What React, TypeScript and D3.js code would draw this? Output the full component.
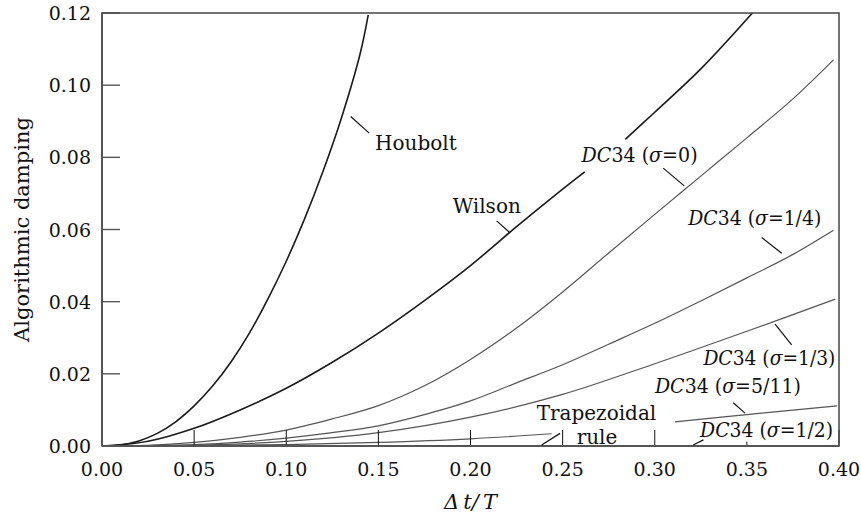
import React from "react";
import * as d3 from "d3";

// ---- data ----
const xTicks = [0, 0.05, 0.1, 0.15, 0.2, 0.25, 0.3, 0.35, 0.4];
const yTicks = [0, 0.02, 0.04, 0.06, 0.08, 0.1, 0.12];

const houboltX = [0, 0.01, 0.02, 0.03, 0.04, 0.05, 0.06, 0.07, 0.08, 0.09, 0.1, 0.11, 0.12, 0.13, 0.14, 0.1445];
const houboltY = [0, 0.0003, 0.0014, 0.0035, 0.0067, 0.0111, 0.0166, 0.0233, 0.0313, 0.0407, 0.0512, 0.063, 0.0762, 0.091, 0.1085, 0.1195];

const wilsonX = [0, 0.025, 0.05, 0.075, 0.1, 0.125, 0.15, 0.175, 0.2, 0.225, 0.25, 0.262, 0.273, 0.284, 0.3, 0.325, 0.353];
const wilsonY = [0, 0.0013, 0.0049, 0.01, 0.016, 0.0232, 0.0313, 0.0403, 0.05, 0.0608, 0.0712, 0.076, null, 0.085, 0.0925, 0.1045, 0.12];

const dc0X = [0, 0.025, 0.05, 0.075, 0.1, 0.125, 0.15, 0.175, 0.2, 0.225, 0.25, 0.275, 0.3, 0.325, 0.35, 0.375, 0.397];
const dc0Y = [0, 0.0002, 0.001, 0.0024, 0.0044, 0.0075, 0.0112, 0.0167, 0.024, 0.0327, 0.0427, 0.0535, 0.0642, 0.0748, 0.0854, 0.0962, 0.107];

const dcQuarterX = [0, 0.025, 0.05, 0.075, 0.1, 0.125, 0.15, 0.175, 0.2, 0.225, 0.25, 0.275, 0.3, 0.325, 0.35, 0.375, 0.397];
const dcQuarterY = [0, 0.0001, 0.0004, 0.0011, 0.0022, 0.0037, 0.0056, 0.0087, 0.0125, 0.0175, 0.0225, 0.0282, 0.034, 0.0402, 0.0466, 0.0531, 0.0598];

const dcThirdX = [0, 0.05, 0.1, 0.15, 0.2, 0.25, 0.3, 0.35, 0.398];
const dcThirdY = [0, 0.0002, 0.0013, 0.0037, 0.008, 0.0143, 0.0228, 0.0318, 0.0407];

const dcFiveElevenX = [0, 0.05, 0.1, 0.15, 0.2, 0.244, 0.28, 0.311, 0.35, 0.399];
const dcFiveElevenY = [0, 0.0001, 0.0004, 0.001, 0.002, 0.0034, null, 0.0067, 0.0087, 0.0111];

const trapezoidalX = [0, 0.4];
const trapezoidalY = [0, 0];
const dcHalfX = [0, 0.4];
const dcHalfY = [0, 0];

type Series = { xs: number[]; ys: (number | null)[]; dark: boolean };
const seriesList: Series[] = [
  { xs: houboltX, ys: houboltY, dark: true },
  { xs: wilsonX, ys: wilsonY, dark: true },
  { xs: dc0X, ys: dc0Y, dark: false },
  { xs: dcQuarterX, ys: dcQuarterY, dark: false },
  { xs: dcThirdX, ys: dcThirdY, dark: false },
  { xs: dcFiveElevenX, ys: dcFiveElevenY, dark: false },
  { xs: trapezoidalX, ys: trapezoidalY, dark: false },
  { xs: dcHalfX, ys: dcHalfY, dark: false },
];

// label text: plain names or DC34 with sigma value
const labelNames = ["Houbolt", "Wilson", "DC34", "DC34", "DC34", "DC34", "DC34", "Trapezoidal"];
const labelSigma = ["", "", "0", "1/4", "1/3", "5/11", "1/2", ""];
const labelX = [0.1482, 0.1903, 0.2603, 0.3182, 0.3264, 0.3001, 0.3246, 0.2359];
const labelY = [0.082, 0.0645, 0.0788, 0.0612, 0.0224, 0.0146, 0.0026, 0.0073];
const labelWidth = [0, 0, 116, 133, 132, 146, 133, 0];
const leaderX1 = [0.135, 0.2142, 0.3046, 0.358, 0.3653, 0.3426, 0.3209, 0.2386];
const leaderY1 = [0.0913, 0.0624, 0.077, 0.0578, 0.0338, 0.012, 0.0003, 0.0003];
const leaderX2 = [0.145, 0.2214, 0.316, 0.3689, 0.3743, 0.349, 0.3264, 0.2486];
const leaderY2 = [0.0867, 0.0591, 0.0721, 0.0534, 0.028, 0.0091, 0.0017, 0.0035];
const ruleX = 0.2576;
const ruleY = 0.0005;

const W = 861;
const H = 516;
const FONT = "'DejaVu Serif', serif";

export default function App() {
  const x = d3.scaleLinear().domain([0, 0.4]).range([102, 839]);
  const y = d3.scaleLinear().domain([0, 0.12]).range([446, 13]);

  const line = (s: Series) =>
    d3
      .line<number>()
      .defined((i) => s.ys[i] !== null)
      .x((i) => x(s.xs[i]))
      .y((i) => y(s.ys[i] as number))
      .curve(d3.curveCatmullRom.alpha(0.5))(s.xs.map((_, i) => i)) || "";

  const fmt = d3.format(".2f");

  return (
    <svg
      width={W}
      height={H}
      style={{ position: "absolute", left: 0, top: 0, background: "#fff" }}
      fontFamily={FONT}
    >
      <defs>
        <clipPath id="plot">
          <rect x={x(0)} y={y(0.12)} width={x(0.4) - x(0)} height={y(0) - y(0.12)} />
        </clipPath>
      </defs>

      {/* curves */}
      <g clipPath="url(#plot)" fill="none">
        {seriesList.map((s, i) => (
          <path
            key={i}
            d={line(s)}
            stroke={s.dark ? "#1a1a1a" : "#555"}
            strokeWidth={s.dark ? 1.6 : 1.2}
          />
        ))}
      </g>

      {/* x ticks (inner) */}
      {xTicks.map((t, i) => (
        <g key={"xt" + i}>
          <line x1={x(t)} x2={x(t)} y1={y(0)} y2={y(0) - 16} stroke="#111" strokeWidth={1} />
          <text x={x(t)} y={476} textAnchor="middle" fontSize={19} fill="#111">
            {fmt(t)}
          </text>
        </g>
      ))}

      {/* y ticks (inner) */}
      {yTicks.map((t, i) => (
        <g key={"yt" + i}>
          <line x1={x(0)} x2={x(0) + 18} y1={y(t)} y2={y(t)} stroke="#555" strokeWidth={1.4} />
          <text x={91} y={y(t)} textAnchor="end" dominantBaseline="central" fontSize={19} fill="#111">
            {fmt(t)}
          </text>
        </g>
      ))}

      {/* frame */}
      <rect
        x={x(0)}
        y={y(0.12)}
        width={x(0.4) - x(0)}
        height={y(0) - y(0.12)}
        fill="none"
        stroke="#444"
        strokeWidth={1.5}
      />
      <line x1={x(0)} x2={x(0)} y1={y(0)} y2={y(0.12)} stroke="#555" strokeWidth={2} />
      <line x1={x(0)} x2={x(0.4)} y1={y(0)} y2={y(0)} stroke="#555" strokeWidth={2} />

      {/* label backgrounds where a label hides a tick */}
      {labelNames.map((n, i) =>
        labelSigma[i] === "1/2" ? (
          <rect
            key={"bg" + i}
            x={x(labelX[i]) + 4}
            y={y(labelY[i]) - 16}
            width={labelWidth[i] - 8}
            height={21}
            fill="#fff"
          />
        ) : null
      )}

      {/* leaders */}
      {leaderX1.map((lx, i) => (
        <line
          key={"ld" + i}
          x1={x(lx)}
          y1={y(leaderY1[i])}
          x2={x(leaderX2[i])}
          y2={y(leaderY2[i])}
          stroke="#111"
          strokeWidth={1.2}
        />
      ))}

      {/* labels */}
      {labelNames.map((n, i) =>
        labelSigma[i] ? (
          <text
            key={"lb" + i}
            x={x(labelX[i])}
            y={y(labelY[i])}
            fontSize={19.5}
            fill="#111"
            textLength={labelWidth[i]}
            lengthAdjust="spacingAndGlyphs"
          >
            <tspan fontStyle="italic">DC</tspan>
            <tspan>34 (</tspan>
            <tspan fontStyle="italic">σ</tspan>
            <tspan>={labelSigma[i]})</tspan>
          </text>
        ) : (
          <text key={"lb" + i} x={x(labelX[i])} y={y(labelY[i])} fontSize={20} fill="#111">
            {n}
          </text>
        )
      )}
      <text x={x(ruleX)} y={y(ruleY)} fontSize={20} fill="#111">
        rule
      </text>

      {/* axis titles */}
      <text
        transform={`translate(22, ${(y(0) + y(0.12)) / 2}) rotate(-90)`}
        textAnchor="middle"
        dominantBaseline="central"
        fontSize={21}
        fill="#111"
      >
        Algorithmic damping
      </text>
      <text x={(x(0) + x(0.4)) / 2} y={509} textAnchor="middle" fontSize={21} fontStyle="italic" fill="#111">
        Δ{"\u2009"}t/{"\u2009"}T
      </text>
    </svg>
  );
}
